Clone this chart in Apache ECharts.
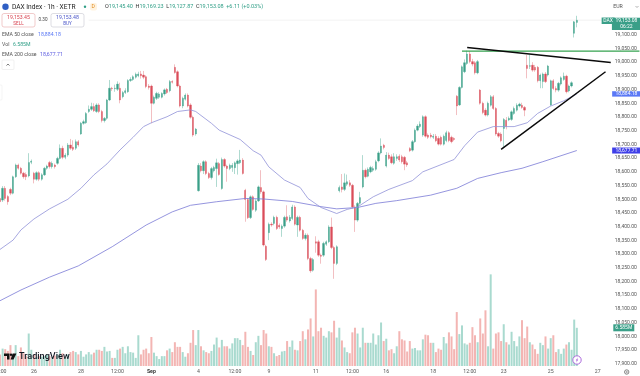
<!DOCTYPE html>
<html><head><meta charset="utf-8">
<style>html,body{margin:0;padding:0;background:#fff}#c{width:640px;height:376px}</style>
<script src="https://cdn.jsdelivr.net/npm/echarts@6/dist/echarts.min.js"></script>
</head><body><div id="c"></div>
<script>
const opens=[18503,18497,18540,18510,18536,18522,18582,18625,18613,18595,
18590,18585,18635,18595,18573,18597,18573,18589,18613,18634,
18619,18625,18631,18649,18686,18653,18661,18698,18690,18686,
18710,18738,18777,18779,18820,18828,18838,18820,18844,18820,
18787,18795,18862,18905,18903,18901,18905,18874,18889,18892,
18933,18937,18945,18950,18957,18953,18947,18913,18913,18850,
18868,18872,18872,18884,18901,18896,18929,18981,18965,18913,
18840,18865,18880,18844,18799,18738,18531,18621,18604,18637,
18594,18579,18604,18612,18630,18539,18645,18621,18612,18616,
18615,18630,18633,18643,18533,18499,18433,18509,18460,18494,
18543,18527,18329,18378,18409,18412,18434,18405,18393,18402,
18436,18421,18430,18472,18406,18434,18387,18357,18369,18284,
18241,18345,18345,18296,18296,18336,18345,18399,18324,18266,
18531,18545,18536,18555,18560,18551,18472,18424,18485,18545,
18606,18584,18600,18606,18609,18640,18669,18697,18621,18661,
18655,18631,18649,18657,18655,18653,18633,18685,18679,18710,
18752,18765,18734,18801,18734,18734,18726,18730,18722,18726,
18701,18714,18743,18726,18722,18876,18844,18908,18965,18995,
19030,19002,18998,18961,18898,18850,18825,18807,18843,18874,
18831,18740,18738,18758,18788,18789,18791,18813,18825,18840,
18843,18835,18989,18985,18989,18981,18981,18932,18929,18957,
18953,18844,18932,18904,18898,18920,18937,18949,18895,18913,
19105,19145];
const closes=[18491,18540,18503,18491,18522,18582,18625,18613,18595,18582,
18582,18634,18639,18573,18597,18573,18589,18613,18621,18619,
18631,18619,18649,18686,18653,18661,18698,18686,18682,18710,
18698,18777,18783,18813,18828,18838,18823,18844,18820,18787,
18795,18862,18905,18903,18905,18920,18862,18889,18896,18933,
18937,18947,18956,18957,18950,18945,18911,18908,18850,18872,
18886,18884,18886,18899,18889,18929,18927,18962,18913,18840,
18868,18880,18840,18799,18734,18756,18624,18604,18637,18594,
18579,18612,18616,18633,18590,18645,18621,18612,18624,18624,
18633,18640,18643,18594,18499,18433,18509,18463,18494,18545,
18527,18333,18280,18409,18406,18434,18393,18399,18402,18434,
18424,18434,18472,18409,18434,18387,18357,18369,18284,18239,
18280,18340,18296,18292,18339,18345,18399,18324,18266,18327,
18543,18536,18560,18564,18551,18472,18424,18485,18506,18606,
18582,18609,18616,18612,18637,18669,18694,18689,18661,18649,
18633,18655,18655,18643,18637,18628,18625,18677,18710,18752,
18767,18774,18801,18730,18726,18728,18730,18713,18701,18701,
18730,18743,18714,18710,18718,18840,18908,18983,18998,19030,
19002,18993,18961,19002,18850,18816,18807,18850,18874,18831,
18738,18730,18713,18791,18765,18795,18819,18831,18843,18847,
18835,18825,18977,18987,18971,18971,18932,18953,18957,18929,
18986,18932,18904,18898,18923,18943,18949,18892,18913,18925,
19147,19153];
const lows=[18480,18490,18495,18480,18515,18518,18578,18608,18590,18575,
18570,18580,18628,18558,18568,18566,18568,18585,18608,18612,
18612,18612,18626,18645,18646,18646,18655,18680,18676,18680,
18692,18735,18772,18775,18815,18822,18818,18815,18814,18780,
18780,18790,18858,18895,18892,18895,18850,18868,18884,18888,
18928,18932,18940,18945,18940,18938,18905,18900,18777,18846,
18862,18866,18868,18878,18884,18890,18922,18958,18908,18835,
18832,18860,18835,18794,18728,18732,18528,18598,18592,18588,
18574,18572,18598,18545,18586,18535,18615,18564,18606,18600,
18592,18590,18628,18590,18418,18428,18428,18458,18454,18490,
18520,18328,18275,18351,18400,18405,18388,18392,18363,18396,
18418,18415,18424,18404,18363,18382,18352,18350,18278,18232,
18236,18305,18290,18265,18290,18330,18340,18318,18210,18260,
18525,18525,18530,18548,18545,18466,18381,18418,18480,18540,
18576,18580,18595,18600,18604,18635,18664,18682,18616,18644,
18628,18626,18640,18636,18630,18606,18618,18672,18674,18706,
18748,18760,18728,18725,18720,18722,18720,18708,18696,18696,
18696,18708,18708,18704,18712,18807,18840,18904,18960,18990,
18996,18985,18955,18956,18845,18810,18802,18802,18838,18826,
18732,18724,18708,18690,18755,18785,18786,18808,18820,18835,
18830,18803,18941,18975,18965,18965,18926,18905,18905,18924,
18948,18840,18898,18890,18892,18915,18932,18886,18890,18908,
19090,19127];
const highs=[18510,18548,18548,18515,18542,18586,18630,18630,18618,18600,
18598,18668,18645,18600,18602,18602,18595,18618,18626,18640,
18638,18630,18655,18700,18695,18668,18705,18720,18715,18718,
18716,18782,18790,18818,18842,18852,18850,18850,18850,18826,
18800,18866,18935,18910,18918,18930,18925,18895,18905,18938,
18945,18952,18962,18965,18968,18968,18952,18920,18918,18878,
18892,18890,18890,18904,18906,18935,18934,18992,18970,18918,
18874,18886,18886,18850,18805,18760,18632,18632,18642,18642,
18600,18618,18622,18648,18636,18652,18650,18626,18630,18632,
18638,18646,18680,18650,18538,18504,18514,18514,18500,18550,
18606,18532,18334,18415,18416,18440,18440,18412,18408,18440,
18478,18442,18480,18478,18440,18440,18392,18376,18375,18290,
18286,18365,18352,18302,18345,18350,18405,18433,18330,18332,
18550,18592,18594,18590,18570,18556,18478,18490,18527,18661,
18612,18616,18622,18620,18644,18675,18722,18702,18672,18670,
18664,18668,18664,18664,18662,18658,18640,18690,18716,18758,
18774,18784,18806,18806,18740,18742,18738,18738,18730,18732,
18736,18750,18748,18732,18726,18880,18912,18988,19010,19042,
19040,19012,19004,19008,18902,18856,18832,18856,18880,18880,
18836,18746,18744,18796,18800,18802,18824,18838,18850,18852,
18852,18840,19026,19026,19000,18990,18986,18958,18962,18964,
18990,18936,18938,18912,18928,18948,18962,18954,18918,18930,
19150,19169];
const volumes=[2.0,3.0,2.9,2.6,3.6,2.0,3.6,1.7,3.2,2.2,
1.7,5.6,2.8,2.0,1.6,1.7,1.6,1.7,2.0,1.7,
1.6,1.8,2.0,2.8,2.2,1.6,2.0,2.4,2.6,2.4,
2.0,2.6,1.6,2.0,2.4,2.0,2.3,2.8,2.8,2.6,
3.3,2.5,2.6,1.4,1.4,2.8,3.0,3.3,2.2,3.4,
2.4,2.3,1.4,5.3,2.0,2.8,3.0,2.2,5.0,2.3,
1.7,1.2,1.7,1.7,2.7,3.0,2.4,4.1,3.3,3.3,
2.4,1.6,2.2,4.0,6.2,3.6,6.2,3.4,2.7,2.4,
2.2,2.6,3.7,4.9,3.2,4.5,3.4,3.4,3.0,3.9,
4.8,4.8,4.5,3.6,5.9,3.3,2.6,1.9,4.1,5.2,
3.6,6.2,5.6,3.4,3.3,2.2,1.7,1.9,2.5,2.6,
4.3,3.3,4.4,2.8,2.7,4.3,6.0,4.6,6.3,8.2,
5.1,13.2,6.0,6.6,5.2,4.9,6.0,5.8,7.8,4.9,
6.6,4.4,3.2,2.4,2.2,5.8,6.6,5.6,3.2,6.6,
4.0,4.0,4.0,5.6,3.7,5.3,7.5,4.3,4.7,2.7,
2.9,2.2,3.4,6.0,4.6,4.4,2.5,4.3,3.0,3.1,
2.7,2.7,4.6,5.4,5.3,4.0,4.0,2.4,3.0,2.8,
5.0,3.9,5.8,5.1,2.9,9.3,5.5,7.0,3.9,3.7,
4.0,6.7,5.3,4.1,8.2,5.6,9.6,3.4,15.8,3.0,
5.6,5.8,4.3,7.2,4.1,3.7,5.9,4.3,3.4,5.1,
7.9,4.8,6.8,4.1,3.7,2.9,2.1,4.0,3.6,5.1,
3.0,4.8,5.3,2.4,2.9,2.1,3.0,3.7,4.1,2.8,
8.0,6.585];
const ema50Bars=[0,5,8,13,19,26,31,36,41,46,51,55,58,64,68,73,75,81,84,92,97,100,103,109,115,118,123,129,133,137,143,149,158,162,174,178,183,189,197,202,206,211,216,221];
const ema50Values=[18317,18351,18388,18428,18465,18500,18540,18589,18629,18680,18726,18765,18779,18801,18820,18826,18820,18777,18752,18718,18677,18661,18618,18570,18543,18503,18470,18448,18463,18472,18509,18536,18568,18600,18645,18695,18745,18765,18765,18779,18813,18840,18859,18884.18];
const ema200Bars=[0,8,19,30,43,56,66,73,83,94,101,112,123,129,137,144,152,165,175,183,192,200,208,221];
const ema200Values=[18130,18169,18216,18257,18327,18406,18454,18478,18491,18503,18501,18492,18473,18465,18470,18485,18495,18515,18540,18576,18597,18613,18637,18677.71];
const tickBars=[0,13,31,45,58,76,90,103,121,135,148,166,180,193,211,229];
const tickLabels=['12:00','26','28','12:00','Sep','4','12:00','9','11','12:00','16','18','12:00','23','25','27'];
const resistanceBars=[177,245]; const resistanceValues=[19040,19040];
const topLineBars=[179,234]; const topLineValues=[19053,18999];
const bottomLineBars=[192,232]; const bottomLineValues=[18682,18965];
const lastPrice=19153.08, lastVolume=6.585;

const N=246, UP='#3a9f88', DOWN='#da4d5a', WUP='#8ccabc', WDOWN='#eda3a7', VUP='#a9dacf', VDOWN='#f3b5b3';
const FONT='Roboto, "Noto Sans", sans-serif';
const cats=Array(N).fill(''); tickBars.forEach((b,i)=>cats[b]=tickLabels[i]);
const candles=opens.map((o,i)=>[o,closes[i],lows[i],highs[i]]);
const bodies=opens.map((o,i)=>[o,closes[i],Math.min(o,closes[i]),Math.max(o,closes[i])]);
const vols=volumes.map((v,i)=>({value:v,itemStyle:{color:closes[i]>=opens[i]?VUP:VDOWN}}));
function sparse(b,v){const a=Array(N).fill(null);b.forEach((x,i)=>a[x]=v[i]);return a;}
function line(b,v,color,w,z){return {type:'line',data:sparse(b,v),connectNulls:true,showSymbol:false,symbol:'none',silent:true,clip:false,z:z||3,lineStyle:{color,width:w},emphasis:{disabled:true}};}
function tag(coord,text,color,w,h,off,lh){return {coord,symbol:'rect',symbolSize:[w,h],symbolOffset:off||[0,0],itemStyle:{color},
 label:{show:true,position:'inside',formatter:text,color:'#fff',fontSize:5,fontFamily:FONT,lineHeight:lh||6}};}
const chart=echarts.init(document.getElementById('c'),null,{renderer:'canvas'});
const T=(x,y,text,o)=>({type:'text',x,y,z:50,silent:true,style:Object.assign({text,font:'5.2px '+FONT,fill:'#444',textVerticalAlign:'middle'},o||{})});
const R=(x,y,w,h,o,r)=>({type:'rect',z:49,silent:true,shape:{x,y,width:w,height:h,r:r||0},style:o});
chart.setOption({
 animation:false,backgroundColor:'#fff',
 grid:[{left:-1.3,right:-0.76,top:-6.4,height:383.9,containLabel:false,outerBoundsMode:'none'},{left:-1.3,right:-0.76,top:270,height:96,containLabel:false,outerBoundsMode:'none'}],
 xAxis:[
  {type:'category',gridIndex:0,data:cats,boundaryGap:true,axisLine:{show:false},axisTick:{show:false},axisLabel:{show:false},splitLine:{show:false}},
  {type:'category',gridIndex:1,data:cats,boundaryGap:true,axisLine:{show:false},axisTick:{show:false},splitLine:{show:false},
   axisLabel:{show:true,interval:0,margin:3.5,fontSize:5.2,fontFamily:FONT,color:'#555',
     formatter:v=>v==='Sep'?'{b|Sep}':v,rich:{b:{fontWeight:'bold',fontSize:5.2,color:'#333',fontFamily:FONT}}}}
 ],
 yAxis:[
  {type:'value',gridIndex:0,position:'right',min:17850,max:19250,interval:50,splitLine:{show:false},axisLine:{show:false},axisTick:{show:false},
   axisLabel:{inside:true,margin:4,fontSize:5,fontFamily:FONT,color:'#555',
    formatter:v=>(v>19100||v<17900)?'':v.toLocaleString('en-US',{minimumFractionDigits:2,maximumFractionDigits:2})}},
  {type:'value',gridIndex:1,min:0,max:16.55,show:false}
 ],
 series:[
  {type:'bar',xAxisIndex:1,yAxisIndex:1,data:vols,barWidth:2,silent:true,z:1,
   markPoint:{silent:true,animation:false,data:[tag([239,lastVolume],'6.585M','#3a9f88',21,7)]}},
  {type:'candlestick',xAxisIndex:0,yAxisIndex:0,data:candles,barWidth:1,silent:true,z:2,
   itemStyle:{color:WUP,color0:WDOWN,borderColor:WUP,borderColor0:WDOWN,borderWidth:0.7}},
  {type:'candlestick',xAxisIndex:0,yAxisIndex:0,data:bodies,barWidth:1.8,silent:true,z:2,
   itemStyle:{color:UP,color0:DOWN,borderColor:UP,borderColor0:DOWN,borderWidth:0.3}},
  Object.assign(line(ema200Bars,ema200Values,'#7a7ad6',0.8),{markPoint:{silent:true,animation:false,data:[tag([240,18677.71],'18,677.71','#3f3fe8',28.5,6)]}}),
  Object.assign(line(ema50Bars,ema50Values,'#9092d8',0.8),{markPoint:{silent:true,animation:false,data:[tag([240,18884.18],'18,884.18','#5a78f5',28.5,5.4)]}}),
  line([34,232],[lastPrice,lastPrice],'#ececec',0.7,1),
  line(resistanceBars,resistanceValues,'#35a24f',1.3,5),
  line(topLineBars,topLineValues,'#0a0a0a',1.5,6),
  line(bottomLineBars,bottomLineValues,'#0a0a0a',1.5,6),
  {type:'line',data:sparse([240],[lastPrice]),showSymbol:false,symbol:'none',silent:true,z:7,
   markPoint:{silent:true,animation:false,data:[tag([240,lastPrice],'19,153.08\n06:22','#3a9f88',29,12.3,[0,3.7]),
     tag([233,lastPrice],'DAX','#3a9f88',13,6.5,[0,0.6])]}}
 ],
 graphic:[
  {type:'circle',z:50,silent:true,shape:{cx:5.5,cy:6.8,r:3.2},style:{fill:'#2f5fc4'}},
  T(12,7,'DAX Index · 1h · XETR',{font:'6.6px '+FONT,fill:'#222'}),
  {type:'circle',z:50,silent:true,shape:{cx:85,cy:6.8,r:1.2},style:{fill:'#2f9e86'}},
  R(90,3,7,7.5,{fill:'#fff3e0'},2), T(91.6,7,'D',{fill:'#e08a1e',font:'5px '+FONT}),
  T(105,7,'{a|O}{v|19,145.40}  {a|H}{v|19,169.23}  {a|L}{v|19,127.87}  {a|C}{v|19,153.08}  {v|+6.11 (+0.03%)}',{rich:{a:{fill:'#333',font:'5.5px '+FONT},v:{fill:'#2f9e86',font:'5.5px '+FONT}}}),
  R(2,13.5,33,13.5,{fill:'#fff',stroke:'#e8a8a8',lineWidth:0.6},2),
  T(18.5,17.8,'19,153.45',{fill:'#d8404e',textAlign:'center'}), T(18.5,24,'SELL',{fill:'#d8404e',textAlign:'center',font:'4.6px '+FONT}),
  T(43,20,'0.30',{textAlign:'center',font:'4.6px '+FONT}),
  R(51,13.5,33,13.5,{fill:'#fff',stroke:'#c8c8d0',lineWidth:0.6},2),
  T(67.5,17.8,'19,153.48',{fill:'#4a55c8',textAlign:'center'}), T(67.5,24,'BUY',{fill:'#4a55c8',textAlign:'center',font:'4.6px '+FONT}),
  T(2,34.3,'EMA 50 close',{fill:'#555'}), T(38,34.3,'18,884.18',{fill:'#5a78f5'}),
  T(2,44.5,'Vol',{fill:'#555'}), T(13,44.5,'6.585M',{fill:'#2f9e86'}),
  T(2,54.5,'EMA 200 close',{fill:'#555'}), T(40,54.5,'18,677.71',{fill:'#5a5ae0'}),
  R(2,60,12,9.5,{fill:'#fff',stroke:'#e8e8e8',lineWidth:0.6},1),
  {type:'polyline',z:50,silent:true,shape:{points:[[6.5,65.6],[8,64],[9.5,65.6]]},style:{stroke:'#444',lineWidth:0.7,fill:null}},
  R(-2,85,4,15,{fill:'#fff',stroke:'#eee',lineWidth:0.6},1),
  T(618,7,'EUR',{textAlign:'center',font:'5.2px '+FONT,fill:'#555'}),
  {type:'polyline',z:50,silent:true,shape:{points:[[635.5,6],[637,7.5],[638.5,6]]},style:{stroke:'#666',lineWidth:0.5,fill:null}},
  {type:'polygon',z:50,silent:true,shape:{points:[[4,353.5],[9.5,353.5],[9.5,359.5],[7,359.5],[7,356],[4,356]]},style:{fill:'#111'}},
  {type:'circle',z:50,silent:true,shape:{cx:11,cy:354.7,r:1.2},style:{fill:'#111'}},
  {type:'polygon',z:50,silent:true,shape:{points:[[12.6,353.5],[16.4,353.5],[13.5,359.5],[10.6,359.5]]},style:{fill:'#111'}},
  T(19,356.5,'TradingView',{font:'500 9.1px '+FONT,fill:'#131722'}),
  {type:'circle',z:50,silent:true,shape:{cx:577,cy:360,r:4.2},style:{fill:'#fff',stroke:'#a45bd8',lineWidth:0.9}},
  {type:'polygon',z:51,silent:true,shape:{points:[[577.8,357.3],[575.8,360.4],[576.9,360.4],[576.2,362.7],[578.2,359.6],[577.1,359.6]]},style:{fill:'#a45bd8'}},
  {type:'circle',z:50,silent:true,shape:{cx:626.7,cy:372,r:2.2},style:{fill:'none',stroke:'#555',lineWidth:0.7}},
  {type:'circle',z:50,silent:true,shape:{cx:626.7,cy:372,r:0.7},style:{fill:'none',stroke:'#555',lineWidth:0.5}}
 ]
});
</script></body></html>
